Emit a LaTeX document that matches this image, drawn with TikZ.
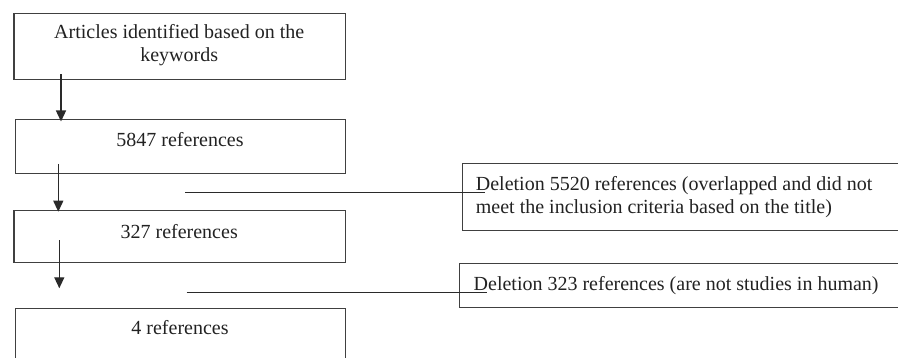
\documentclass[tikz,border=0pt]{standalone}
\usepackage{fontspec}
\setmainfont{Liberation Serif}
\usetikzlibrary{arrows.meta,calc}
\definecolor{boxgray}{HTML}{404040}
\definecolor{linegray}{HTML}{2A2A2A}
\definecolor{textgray}{HTML}{222222}
\begin{document}
\begin{tikzpicture}[x=1pt,y=-1pt,
  box/.style={draw=boxgray, line width=1.2pt, inner sep=0pt, anchor=north west},
  txt/.style={font=\fontsize{20}{23}\selectfont, text=textgray, inner sep=0pt},
  arr/.style={draw=linegray, line width=1.3pt, -{Triangle[width=10pt,length=11pt]}},
  conn/.style={draw=linegray, line width=1.1pt}]
\useasboundingbox (0,0) rectangle (898,358);
\clip (0,0) rectangle (898,358);
% left column boxes
\node[box, minimum width=331.7pt, minimum height=66.3pt] (b1) at (13.3,12.7) {};
\node[box, minimum width=330pt, minimum height=53.4pt] (b2) at (15,119.3) {};
\node[box, minimum width=331.7pt, minimum height=51.7pt] (b3) at (13.3,210) {};
\node[box, minimum width=330pt, minimum height=80pt] (b4) at (15,308) {};
% right boxes (cut at the right edge)
\node[box, minimum width=480pt, minimum height=66.7pt] (r1) at (461.7,163.3) {};
\node[box, minimum width=480pt, minimum height=44pt] (r2) at (459,262.7) {};
% texts
\node[txt, align=center, anchor=base] (t1) at (179.2,62) {Articles identified based on the\\keywords};
\node[txt, anchor=base] (t2) at (180,146.3) {5847 references};
\node[txt, anchor=base] (t3) at (179.2,238.3) {327 references};
\node[txt, anchor=base] (t4) at (180,335) {4 references};
\node[txt, align=left, anchor=base west] (t5) at (475.7,213.5) {Deletion 5520 references (overlapped and did not\\meet the inclusion criteria based on the title)};
\node[txt, anchor=base west] (t6) at (473.5,290.7) {Deletion 323 references (are not studies in human)};
% arrows
\coordinate (a1s) at ($(b1.south west)+(47.7,-5.7)$);
\coordinate (a1e) at ($(b2.north west)+(46,2.2)$);
\coordinate (a2s) at ($(b2.south west)+(43.3,-10)$);
\coordinate (a2e) at ($(b3.north west)+(45,1.7)$);
\coordinate (a3s) at ($(b3.south west)+(46,-22.4)$);
\coordinate (a3e) at ($(b4.north west)+(44.3,-19.7)$);
\draw[arr] (a1s) -- (a1e);
\draw[arr] (a2s) -- (a2e);
\draw[arr] (a3s) -- (a3e);
% connector lines to deletion boxes
\coordinate (l1s) at (185,192.7);
\coordinate (l1e) at ($(r1.north west)+(23.3,29.4)$);
\coordinate (l2s) at (186.7,292.7);
\coordinate (l2e) at ($(r2.north west)+(28,30)$);
\draw[conn] (l1s) -- (l1e);
\draw[conn] (l2s) -- (l2e);
\end{tikzpicture}
\end{document}
